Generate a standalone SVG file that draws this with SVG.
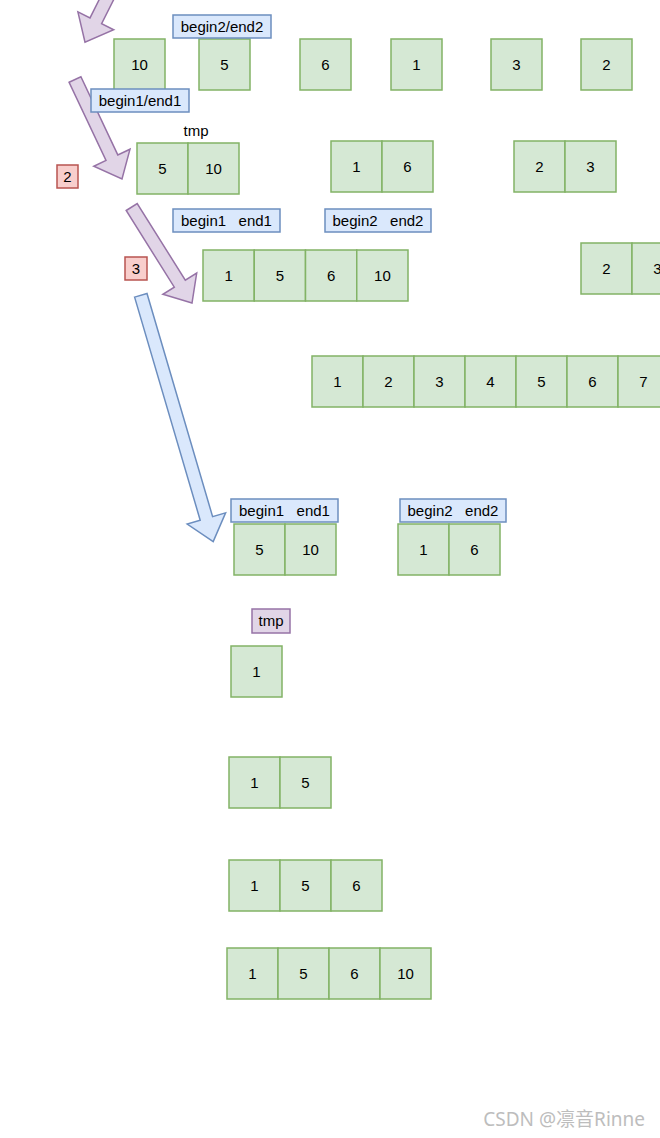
<svg xmlns="http://www.w3.org/2000/svg" width="660" height="1138" viewBox="0 0 660 1138">
<style>
.c{fill:#d5e8d4;stroke:#82b366;stroke-width:1.5}
.lb{fill:#dae8fc;stroke:#6c8ebf;stroke-width:1.5}
.rd{fill:#f8cecc;stroke:#b85450;stroke-width:1.5}
.pu{fill:#e1d5e7;stroke:#9673a6;stroke-width:1.5}
.ab{fill:#dae8fc;stroke:#6c8ebf;stroke-width:1.5}
text{font-family:"Liberation Sans",Arial,sans-serif;font-size:15px;fill:#000;text-anchor:middle}
.wm{font-family:"Noto Sans","Noto Sans CJK SC",sans-serif;font-size:19px;fill:#bdbdbd;text-anchor:end}
</style>
<rect width="660" height="1138" fill="#fff"/>
<g id="connectors">
<polygon class="pu" points="110.2,-22.3 121.8,-16.5 101.6,23.7 113.7,29.8 85,42.2 77.9,11.8 90,17.9"/>
<polygon class="pu" points="69.1,82.3 80.9,76.7 117.8,154.9 130,149.2 122,179 93.8,166.2 106,160.5"/>
<polygon class="pu" points="126.2,210.5 137.2,203.5 185.3,280.2 196.7,273.1 192,303 162.9,294.3 174.3,287.2"/>
<polygon class="ab" points="134.6,297.1 147,293.5 212.6,516.6 225.6,512.8 213.2,541.6 187.2,524 200.2,520.2"/>
</g>
<g id="row1">
<rect class="c" x="114" y="39" width="51" height="51"/><text x="139.5" y="70">10</text>
<rect class="c" x="199" y="39" width="51" height="51"/><text x="224.5" y="70">5</text>
<rect class="c" x="300" y="39" width="51" height="51"/><text x="325.5" y="70">6</text>
<rect class="c" x="391" y="39" width="51" height="51"/><text x="416.5" y="70">1</text>
<rect class="c" x="491" y="39" width="51" height="51"/><text x="516.5" y="70">3</text>
<rect class="c" x="581" y="39" width="51" height="51"/><text x="606.5" y="70">2</text>
</g>
<g id="lbl-b2e2-top"><rect class="lb" x="173" y="15" width="98" height="23"/><text x="222" y="32">begin2/end2</text></g>
<g id="lbl-b1e1-top"><rect class="lb" x="91" y="89" width="98" height="23"/><text x="140" y="106">begin1/end1</text></g>
<g id="tmp-top"><text x="196" y="136">tmp</text></g>
<g id="row2a">
<rect class="c" x="137" y="143" width="51" height="51"/><text x="162.5" y="174">5</text>
<rect class="c" x="188" y="143" width="51" height="51"/><text x="213.5" y="174">10</text>
</g>
<g id="row2b">
<rect class="c" x="331" y="141" width="51" height="51"/><text x="356.5" y="172">1</text>
<rect class="c" x="382" y="141" width="51" height="51"/><text x="407.5" y="172">6</text>
</g>
<g id="row2c">
<rect class="c" x="514" y="141" width="51" height="51"/><text x="539.5" y="172">2</text>
<rect class="c" x="565" y="141" width="51" height="51"/><text x="590.5" y="172">3</text>
</g>
<g id="step2"><rect class="rd" x="57" y="165" width="21" height="23"/><text x="67.5" y="182">2</text></g>
<g id="step3"><rect class="rd" x="125" y="257" width="22" height="23"/><text x="136" y="274">3</text></g>
<g id="lbl-b1e1-mid"><rect class="lb" x="173" y="209" width="107" height="23"/><text x="226.5" y="226">begin1&#160;&#160;&#160;end1</text></g>
<g id="lbl-b2e2-mid"><rect class="lb" x="325" y="209" width="106" height="23"/><text x="378" y="226">begin2&#160;&#160;&#160;end2</text></g>
<g id="row3a">
<rect class="c" x="203" y="250" width="51.25" height="51"/><text x="228.6" y="281">1</text>
<rect class="c" x="254.25" y="250" width="51.25" height="51"/><text x="279.9" y="281">5</text>
<rect class="c" x="305.5" y="250" width="51.25" height="51"/><text x="331.1" y="281">6</text>
<rect class="c" x="356.75" y="250" width="51.25" height="51"/><text x="382.4" y="281">10</text>
</g>
<g id="row3b">
<rect class="c" x="581" y="243" width="51" height="51"/><text x="606.5" y="274">2</text>
<rect class="c" x="632" y="243" width="51" height="51"/><text x="657.5" y="274">3</text>
</g>
<g id="row4">
<rect class="c" x="312" y="356" width="51" height="51"/><text x="337.5" y="387">1</text>
<rect class="c" x="363" y="356" width="51" height="51"/><text x="388.5" y="387">2</text>
<rect class="c" x="414" y="356" width="51" height="51"/><text x="439.5" y="387">3</text>
<rect class="c" x="465" y="356" width="51" height="51"/><text x="490.5" y="387">4</text>
<rect class="c" x="516" y="356" width="51" height="51"/><text x="541.5" y="387">5</text>
<rect class="c" x="567" y="356" width="51" height="51"/><text x="592.5" y="387">6</text>
<rect class="c" x="618" y="356" width="51" height="51"/><text x="643.5" y="387">7</text>
</g>
<g id="lbl-b1e1-bot"><rect class="lb" x="231" y="499" width="107" height="23"/><text x="284.5" y="516">begin1&#160;&#160;&#160;end1</text></g>
<g id="lbl-b2e2-bot"><rect class="lb" x="400" y="499" width="106" height="23"/><text x="453" y="516">begin2&#160;&#160;&#160;end2</text></g>
<g id="row5a">
<rect class="c" x="234" y="524" width="51" height="51"/><text x="259.5" y="555">5</text>
<rect class="c" x="285" y="524" width="51" height="51"/><text x="310.5" y="555">10</text>
</g>
<g id="row5b">
<rect class="c" x="398" y="524" width="51" height="51"/><text x="423.5" y="555">1</text>
<rect class="c" x="449" y="524" width="51" height="51"/><text x="474.5" y="555">6</text>
</g>
<g id="tmp-bot"><rect class="pu" x="252" y="609" width="38" height="24"/><text x="271" y="626">tmp</text></g>
<g id="tmp1">
<rect class="c" x="231" y="646" width="51" height="51"/><text x="256.5" y="677">1</text>
</g>
<g id="tmp2">
<rect class="c" x="229" y="757" width="51" height="51"/><text x="254.5" y="788">1</text>
<rect class="c" x="280" y="757" width="51" height="51"/><text x="305.5" y="788">5</text>
</g>
<g id="tmp3">
<rect class="c" x="229" y="860" width="51" height="51"/><text x="254.5" y="891">1</text>
<rect class="c" x="280" y="860" width="51" height="51"/><text x="305.5" y="891">5</text>
<rect class="c" x="331" y="860" width="51" height="51"/><text x="356.5" y="891">6</text>
</g>
<g id="tmp4">
<rect class="c" x="227" y="948" width="51" height="51"/><text x="252.5" y="979">1</text>
<rect class="c" x="278" y="948" width="51" height="51"/><text x="303.5" y="979">5</text>
<rect class="c" x="329" y="948" width="51" height="51"/><text x="354.5" y="979">6</text>
<rect class="c" x="380" y="948" width="51" height="51"/><text x="405.5" y="979">10</text>
</g>
<text class="wm" x="645" y="1126">CSDN @凛音Rinne</text>
</svg>
